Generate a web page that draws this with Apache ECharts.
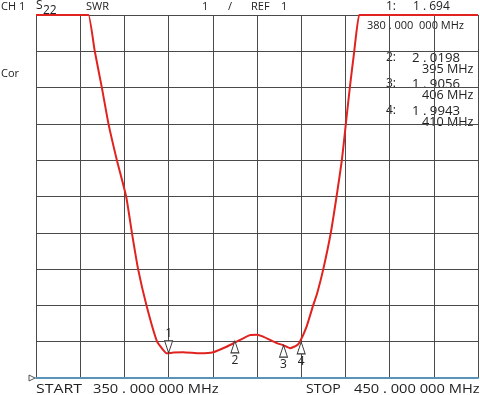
<!DOCTYPE html>
<html>
<head>
<meta charset="utf-8">
<script src="https://cdn.jsdelivr.net/npm/echarts@6/dist/echarts.min.js"></script>
<style>
  html, body { margin: 0; padding: 0; background: #fff; }
  #chart { width: 480px; height: 395px; }
</style>
</head>
<body>
<div id="chart"></div>
<script>
// S22 SWR trace (flat at the top where it runs off scale)
const freqMHz = [350, 355, 361.3, 361.9, 363.3, 364.9, 366.4, 368.3, 370.4, 371.7, 373.1, 375.0, 377.4,
  378.8, 379.6, 381.1, 383.3, 387.1, 390.1, 393.1, 395.4, 398.4, 399.9, 401.4, 404.5, 406,
  407.5, 409.0, 409.7, 411.2, 412.7, 413.6, 415.0, 416.7, 418.0, 419.2, 420.1, 421.0, 422.0,
  423.1, 423.8, 435, 450];
const swr = [11, 11, 11, 11, 10, 9, 8, 7, 6, 5, 4, 3, 2,
  1.77, 1.68, 1.70, 1.71, 1.68, 1.71, 1.86, 2.0, 2.18, 2.19, 2.14, 1.96, 1.9,
  1.82, 1.9, 2.0, 2.41, 3, 3.33, 4, 5, 6, 7, 8, 9, 10,
  11, 11, 11, 11];

const markerNames = ["1", "2", "3", "4"];
const markerFreqs = [380, 395, 406, 410];
const markerSwr = [1.694, 2.0198, 1.9056, 1.9943];

const startMHz = 350, stopMHz = 450, freqStep = 10;
const refSwr = 1, topSwr = 11, swrStep = 1;

const FONT = "'Open Sans', 'Noto Sans', sans-serif";
const INK = "#222";

const chart = echarts.init(document.getElementById("chart"));

const spaced = (v) => String(v).replace(".", " . ");

function txt(x, y, text, size, sx) {
  return {
    type: "text", x: x, y: y, scaleX: sx || 1, silent: true,
    style: { text: text, fill: INK, font: (size || 11) + "px " + FONT, verticalAlign: "middle" },
  };
}

const readout = [txt(386, 7, markerNames[0] + ":", 12), txt(413, 7, spaced(markerSwr[0]), 12),
  txt(367, 26, markerFreqs[0] + " . 000  000 MHz", 11)];
const rows = [58, 84, 111];
for (let i = 1; i < markerNames.length; i++) {
  const y = rows[i - 1];
  readout.push(txt(386, y, markerNames[i] + ":", 12));
  readout.push(txt(412, y + 1, spaced(markerSwr[i]), 12, 1.1));
  readout.push(txt(422, y + 12, markerFreqs[i] + " MHz", 12, 1.05));
}

const markData = markerNames.map((n, i) => {
  const up = i > 0;
  return {
    name: n,
    coord: [markerFreqs[i], markerSwr[i]],
    symbol: up ? "path://M5,0 L10,14 L0,14 Z" : "path://M0,0 L10,0 L5,14 Z",
    symbolOffset: [0, up ? 6 : -6],
    label: { position: up ? "bottom" : "top", distance: 1 },
  };
});

const grid = { left: 36, right: 2, top: 15, bottom: 17 };
// reference-level pointer sits at the bottom-left corner of the grid (SWR = ref)
const refX = grid.left, refY = 395 - grid.bottom;

chart.setOption({
  animation: false,
  grid: grid,
  xAxis: {
    type: "value", min: startMHz, max: stopMHz, interval: freqStep,
    axisLabel: { show: false }, axisTick: { show: false },
    axisLine: { show: true, lineStyle: { color: "#5a93b8", width: 2 } },
    splitLine: { show: true, lineStyle: { color: "#4a4a4a", width: 1 } },
  },
  yAxis: {
    type: "value", min: refSwr, max: topSwr, interval: swrStep,
    axisLabel: { show: false }, axisTick: { show: false }, axisLine: { show: false },
    splitLine: { show: true, lineStyle: { color: "#4a4a4a", width: 1 } },
  },
  series: [{
    type: "line",
    data: freqMHz.map((f, i) => [f, swr[i]]),
    showSymbol: false,
    smooth: 0.15,
    lineStyle: { color: "#e0231f", width: 2 },
    markPoint: {
      silent: true,
      symbolSize: [8, 12],
      symbolKeepAspect: false,
      itemStyle: { color: "#fff", borderColor: "#333", borderWidth: 1 },
      label: { show: true, formatter: "{b}", color: INK, fontSize: 12, fontFamily: FONT },
      data: markData,
    },
  }],
  graphic: [
    txt(1, 7, "CH 1", 11),
    txt(36, 6, "S", 12),
    txt(43, 11, "22", 12),
    txt(86, 7, "SWR", 11),
    txt(202, 7, "1", 11),
    txt(228, 7, "/", 11),
    txt(251, 7, "REF", 11),
    txt(281, 7, "1", 11),
    txt(1, 74, "Cor", 11),
    txt(36, 389, "START", 13, 1.22),
    txt(93, 389, startMHz + " . 000 000 MHz", 13, 1.13),
    txt(306, 389, "STOP", 13, 1.08),
    txt(354, 389, stopMHz + " . 000 000 MHz", 13, 1.13),
    {
      type: "polygon", silent: true,
      shape: { points: [[refX - 7, refY - 3], [refX - 1, refY], [refX - 7, refY + 3]] },
      style: { fill: "#fff", stroke: "#555", lineWidth: 1 },
    },
  ].concat(readout),
});
</script>
</body>
</html>
